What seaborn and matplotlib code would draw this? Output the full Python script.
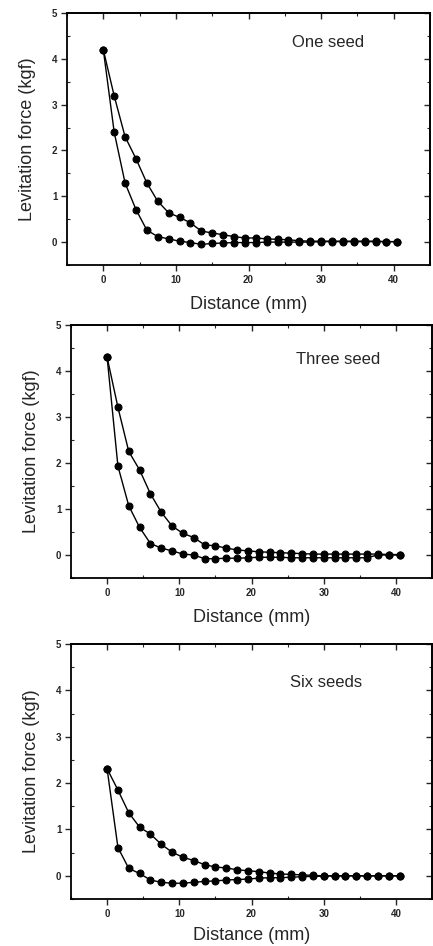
import matplotlib
matplotlib.use("Agg")
import matplotlib.pyplot as plt
from matplotlib.ticker import MultipleLocator
import seaborn as sns

distance = [0, 1.5, 3, 4.5, 6, 7.5, 9, 10.5, 12, 13.5, 15, 16.5, 18, 19.5,
            21, 22.5, 24, 25.5, 27, 28.5, 30, 31.5, 33, 34.5, 36, 37.5, 39, 40.5]

one_upper = [4.2, 3.19, 2.3, 1.82, 1.29, 0.89, 0.64, 0.54, 0.42, 0.24, 0.2, 0.16, 0.12, 0.09,
             0.09, 0.07, 0.06, 0.05, 0.03, 0.02, 0.02, 0.02, 0.02, 0.02, 0.02, 0.02, 0.01, 0.01]
one_lower = [4.2, 2.4, 1.29, 0.71, 0.26, 0.12, 0.07, 0.02, -0.01, -0.05, -0.03, -0.02, -0.01, -0.01,
             -0.01, 0.0, 0.0, 0.0, 0.0, 0.0, 0.01, 0.01, 0.01, 0.01, 0.01, 0.01, 0.01, 0.01]

three_upper = [4.3, 3.21, 2.25, 1.85, 1.33, 0.93, 0.63, 0.47, 0.38, 0.22, 0.2, 0.15, 0.11, 0.09,
               0.07, 0.06, 0.05, 0.04, 0.03, 0.02, 0.02, 0.02, 0.02, 0.02, 0.02, 0.02, 0.01, 0.01]
three_lower = [4.3, 1.93, 1.07, 0.6, 0.25, 0.15, 0.09, 0.02, 0.0, -0.08, -0.08, -0.07, -0.07, -0.06,
               -0.05, -0.05, -0.05, -0.06, -0.06, -0.06, -0.06, -0.06, -0.06, -0.06, -0.06, 0.0, 0.0, 0.0]

six_upper = [2.31, 1.85, 1.36, 1.05, 0.9, 0.68, 0.51, 0.40, 0.33, 0.24, 0.19, 0.17, 0.13, 0.11,
             0.09, 0.06, 0.04, 0.03, 0.02, 0.01, 0.0, 0.0, 0.0, 0.0, 0.0, 0.0, 0.0, 0.0]
six_lower = [2.31, 0.61, 0.16, 0.05, -0.09, -0.14, -0.16, -0.16, -0.14, -0.12, -0.11, -0.09, -0.08, -0.07,
             -0.05, -0.04, -0.04, -0.03, -0.02, -0.01, -0.01, 0.0, 0.0, 0.0, 0.0, 0.0, 0.0, 0.0]

panel_labels = ["One seed", "Three seed", "Six seeds"]
x_ticks = [0, 10, 20, 30, 40]
y_ticks = [0, 1, 2, 3, 4, 5]
x_label = "Distance (mm)"
y_label = "Levitation force (kgf)"

sns.set_style("ticks")
plt.rcParams["font.family"] = ["Liberation Sans", "DejaVu Sans"]

W, H = 433, 946
fig = plt.figure(figsize=(W / 100, H / 100), dpi=100)

# pixel boxes (left, right, top, bottom) and label text positions
boxes = [(67, 430, 13, 265), (71, 432, 325, 578), (71, 432, 644, 899)]
label_pos = [(26.0, 4.35), (26.1, 4.24), (25.4, 4.18)]
xlabel_pads = [8, 8, 6]
series = [(one_upper, one_lower), (three_upper, three_lower), (six_upper, six_lower)]

for (l, r, t, b), (tx, ty), pad, (up, lo), name in zip(boxes, label_pos, xlabel_pads, series, panel_labels):
    ax = fig.add_axes([l / W, 1 - b / H, (r - l) / W, (b - t) / H])
    for ys in (up, lo):
        sns.lineplot(x=distance, y=ys, ax=ax, color="black", linewidth=1.0,
                     marker="o", markersize=5, markeredgecolor="black",
                     markerfacecolor="black", legend=False)
    ax.set_xlim(-5, 45)
    ax.set_ylim(-0.5, 5)
    ax.set_xticks(x_ticks)
    ax.set_yticks(y_ticks)
    ax.xaxis.set_minor_locator(MultipleLocator(5))
    ax.yaxis.set_minor_locator(MultipleLocator(0.5))
    ax.tick_params(which="major", direction="out", length=4, width=1.0,
                   labelsize=7, pad=3)
    ax.tick_params(which="minor", direction="in", length=2.5, width=0.8)
    for lab in ax.get_xticklabels() + ax.get_yticklabels():
        lab.set_fontweight("bold")
    for sp in ax.spines.values():
        sp.set_visible(True)
        sp.set_linewidth(1.3)
        sp.set_color("black")
    # top / right ticks pointing inward
    secx = ax.secondary_xaxis("top")
    secx.set_xticks(x_ticks)
    secx.xaxis.set_minor_locator(MultipleLocator(5))
    secx.tick_params(which="major", direction="in", length=4, width=1.0, labeltop=False)
    secx.tick_params(which="minor", direction="in", length=2.5, width=0.8)
    secy = ax.secondary_yaxis("right")
    secy.set_yticks(y_ticks)
    secy.yaxis.set_minor_locator(MultipleLocator(0.5))
    secy.tick_params(which="major", direction="in", length=4, width=1.0, labelright=False)
    secy.tick_params(which="minor", direction="in", length=2.5, width=0.8)
    for sp in list(secx.spines.values()) + list(secy.spines.values()):
        sp.set_linewidth(1.3)

    ax.set_xlabel(x_label, fontsize=13, labelpad=pad)
    ax.set_ylabel(y_label, fontsize=13)
    ax.yaxis.set_label_coords(-0.085, 0.5)
    ax.text(tx, ty, name, fontsize=12, ha="left", va="center")

fig.savefig("out.png", dpi=100)
